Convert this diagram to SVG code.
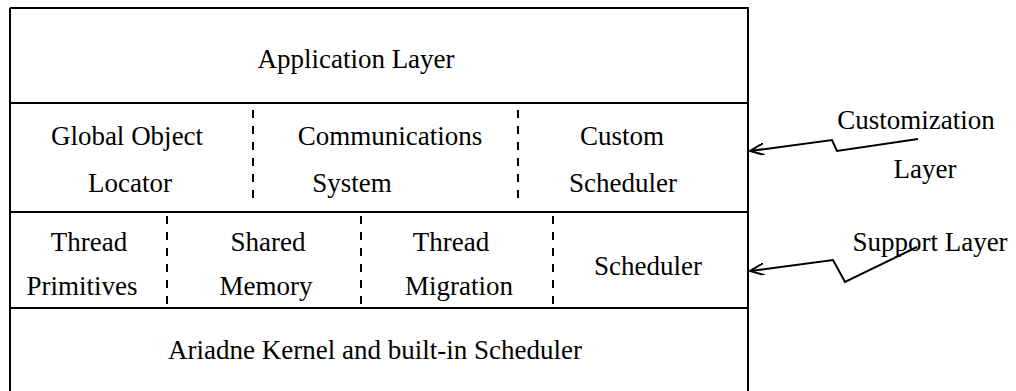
<svg xmlns="http://www.w3.org/2000/svg" width="1016" height="391" viewBox="0 0 1016 391">
<style>
text{font-family:"Liberation Serif","Times New Roman",serif;font-size:27px;fill:#000;text-anchor:middle}
.solid{stroke:#000;stroke-width:2;fill:none}
.dash{stroke:#000;stroke-width:2;stroke-dasharray:8,8;fill:none}
.arr{stroke:#000;stroke-width:2;fill:none;marker-end:url(#ah)}
</style>
<defs>
<marker id="ah" markerWidth="16" markerHeight="12" refX="14" refY="6" orient="auto" markerUnits="userSpaceOnUse">
<path d="M0,0 L14,6 L0,12" fill="none" stroke="#000" stroke-width="2"/>
</marker>
</defs>
<rect width="1016" height="391" fill="#fff"/>
<g id="frame">
<path class="solid" d="M10,8 H748 V392 M10,8 V392"/>
<line class="solid" x1="10" y1="103" x2="748" y2="103"/>
<line class="solid" x1="10" y1="212" x2="748" y2="212"/>
<line class="solid" x1="10" y1="308" x2="748" y2="308"/>
</g>
<g id="app"><text x="356" y="68">Application Layer</text></g>
<g id="gol"><text x="127" y="145">Global Object</text><text x="130" y="192">Locator</text></g>
<g id="comm"><line class="dash" x1="253" y1="110" x2="253" y2="205"/><text x="390" y="145">Communications</text><text x="352" y="192">System</text></g>
<g id="csched"><line class="dash" x1="518" y1="110" x2="518" y2="205"/><text x="622" y="145">Custom</text><text x="623" y="192">Scheduler</text></g>
<g id="tprim"><text x="89" y="251">Thread</text><text x="82" y="295">Primitives</text></g>
<g id="shmem"><line class="dash" x1="167" y1="216" x2="167" y2="305"/><text x="268" y="251">Shared</text><text x="266" y="295">Memory</text></g>
<g id="tmig"><line class="dash" x1="361" y1="216" x2="361" y2="305"/><text x="451" y="251">Thread</text><text x="459" y="295">Migration</text></g>
<g id="sched"><line class="dash" x1="553" y1="216" x2="553" y2="305"/><text x="648" y="275">Scheduler</text></g>
<g id="kernel"><text x="375" y="359">Ariadne Kernel and built-in Scheduler</text></g>
<g id="custlabel"><text x="916" y="129">Customization</text><text x="925" y="178">Layer</text></g>
<g id="suplabel"><text x="930" y="251">Support Layer</text></g>
<g id="connectors">
<polyline class="arr" points="918,139 837,151 832,140 750,151"/>
<polyline class="arr" points="917,247 845,282 833,260 750,271"/>
</g>
</svg>
